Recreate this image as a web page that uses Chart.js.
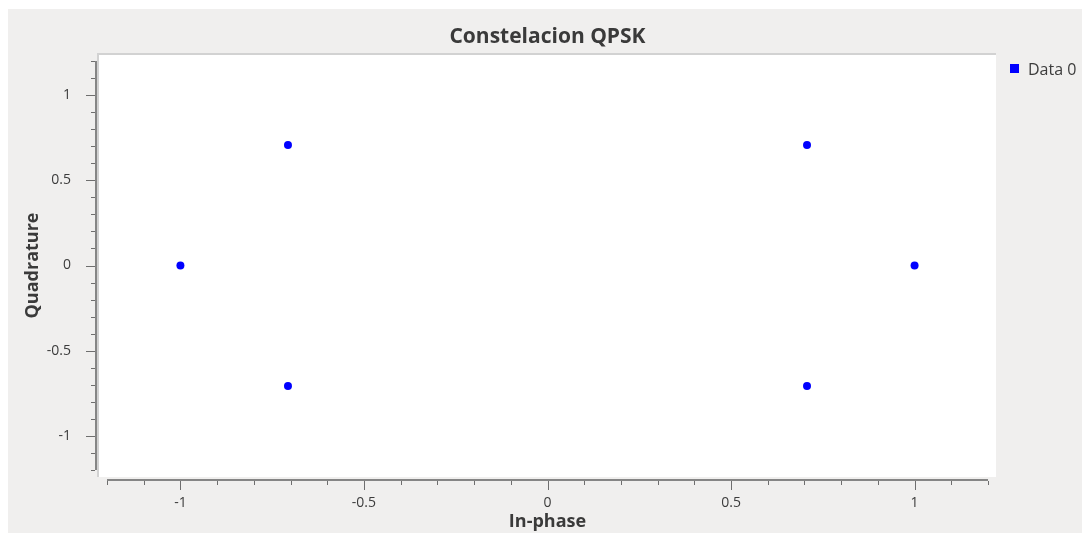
<!DOCTYPE html>
<html>
<head>
<meta charset="utf-8">
<script src="https://cdn.jsdelivr.net/npm/chart.js@4"></script>
<style>
  html, body { margin: 0; padding: 0; background: #fff; }
  canvas { display: block; }
</style>
</head>
<body>
<canvas id="qpskChart" width="1082" height="533"></canvas>
<script>
// QPSK constellation samples (In-phase / Quadrature)
const inPhase = [-1, -0.707, 0.707, 1, 0.707, -0.707];
const quadrature = [0, 0.707, 0.707, 0, -0.707, -0.707];
const xTicks = [-1, -0.5, 0, 0.5, 1];
const yTicks = [-1, -0.5, 0, 0.5, 1];
const seriesName = 'Data 0';

const axisMin = -1.2;
const axisMax = 1.2;
const minorStep = 0.1;

Chart.defaults.font.family = "'Open Sans', sans-serif";
Chart.defaults.color = '#3c3c3c';

const ctx = document.getElementById('qpskChart');

new Chart(ctx, {
  type: 'scatter',
  data: {
    datasets: [
      {
        label: seriesName,
        data: inPhase.map((x, i) => ({ x, y: quadrature[i] })),
        backgroundColor: '#0000ff',
        borderWidth: 0,
        pointRadius: 4,
        pointHoverRadius: 4,
      },
    ],
  },
  options: {
    responsive: false,
    animation: false,
    layout: {
      padding: { left: 0, right: 94, top: 0, bottom: 0 },
    },
    plugins: {
      legend: { display: false },
      tooltip: { enabled: false },
      title: {
        display: true,
        text: 'Constelacion QPSK',
        fullSize: false,
        color: '#3a3a3a',
        font: { size: 21, weight: 'bold', lineHeight: '22px' },
        padding: { top: 26, bottom: 13 },
      },
    },
    scales: {
      x: {
        type: 'linear',
        position: 'bottom',
        min: axisMin,
        max: axisMax,
        grid: { display: false },
        border: { display: false },
        afterBuildTicks(scale) {
          scale.ticks = xTicks.map((v) => ({ value: v }));
        },
        afterFit(scale) {
          scale.height = 63;
        },
        ticks: {
          padding: 17,
          font: { size: 14 },
          callback: (v) => String(v),
        },
        title: {
          display: true,
          text: 'In-phase',
          color: '#3a3a3a',
          font: { size: 18, weight: 'bold', lineHeight: '20px' },
          padding: { top: 0, bottom: 1 },
        },
      },
      y: {
        type: 'linear',
        position: 'left',
        min: axisMin,
        max: axisMax,
        grid: { display: false },
        border: { display: false },
        afterBuildTicks(scale) {
          scale.ticks = yTicks.map((v) => ({ value: v }));
        },
        afterFit(scale) {
          scale.width = 107;
        },
        ticks: {
          padding: 28,
          font: { size: 14 },
          callback: (v) => String(v),
        },
        title: {
          display: true,
          text: 'Quadrature',
          color: '#3a3a3a',
          font: { size: 18, weight: 'bold', lineHeight: '20px' },
          padding: { top: 23, bottom: 0 },
        },
      },
    },
  },
  plugins: [
    {
      id: 'qwtFrame',
      beforeDraw(chart) {
        const { ctx, width, height, chartArea } = chart;
        ctx.save();
        // window background
        ctx.fillStyle = '#ffffff';
        ctx.fillRect(0, 0, width, height);
        ctx.fillStyle = '#f0efee';
        ctx.fillRect(8, 9, width - 8, height - 9);
        // plot canvas (a bit larger than the scale range)
        const px0 = chartArea.left - 8;
        const py0 = chartArea.top - 6;
        const px1 = chartArea.right + 8;
        const py1 = chartArea.bottom + 7;
        ctx.fillStyle = '#d2d2d2';
        ctx.fillRect(px0 - 2, py0 - 2, px1 - px0 + 2, py1 - py0 + 2);
        ctx.fillStyle = '#ffffff';
        ctx.fillRect(px0, py0, px1 - px0, py1 - py0);
        ctx.restore();
      },
      beforeDatasetsDraw(chart) {
        const { ctx, chartArea, scales } = chart;
        const xs = scales.x;
        const ys = scales.y;
        const axisX = chartArea.left - 11; // vertical axis line
        const axisY = chartArea.bottom + 9; // horizontal axis line
        ctx.save();
        ctx.fillStyle = '#858585';
        ctx.fillRect(axisX - 1, chartArea.top, 2, chartArea.bottom - chartArea.top);
        ctx.fillRect(chartArea.left, axisY, chartArea.right - chartArea.left, 2);

        ctx.fillStyle = '#6e6e6e';
        const n = Math.round((axisMax - axisMin) / minorStep);
        for (let i = 0; i <= n; i++) {
          const v = +(axisMin + i * minorStep).toFixed(2);
          const major = Math.abs(v * 2 - Math.round(v * 2)) < 1e-6;
          const len = major ? 9 : 4;
          const xp = Math.round(xs.getPixelForValue(v));
          ctx.fillRect(xp, axisY + 2, 1, len);
          const yp = Math.round(ys.getPixelForValue(v));
          ctx.fillRect(axisX - 1 - len, yp, len, 1);
        }
        ctx.restore();
      },
      afterDraw(chart) {
        const { ctx, chartArea } = chart;
        const ds = chart.data.datasets[0];
        ctx.save();
        // legend at the right of the plot
        const lx = chartArea.right + 22;
        const ly = chartArea.top + 3;
        ctx.fillStyle = ds.backgroundColor;
        ctx.fillRect(lx, ly, 9, 9);
        ctx.fillStyle = '#3c3c3c';
        ctx.font = "16px 'Open Sans', sans-serif";
        ctx.textBaseline = 'middle';
        ctx.fillText(ds.label, lx + 18, ly + 6);
        ctx.restore();
      },
    },
  ],
});
</script>
</body>
</html>
